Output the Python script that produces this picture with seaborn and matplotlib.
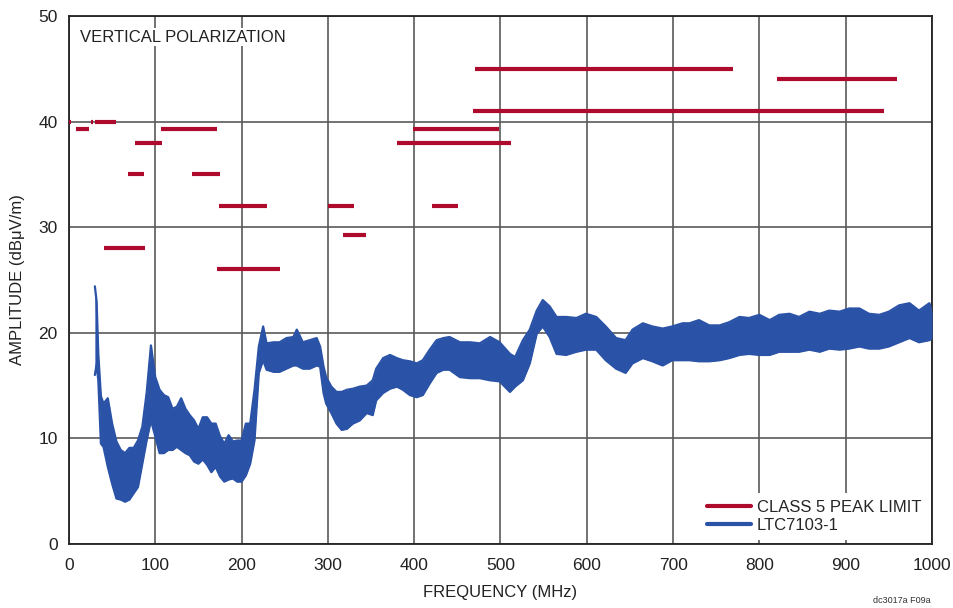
import numpy as np
import matplotlib
matplotlib.use("Agg")
import matplotlib.pyplot as plt
from matplotlib.lines import Line2D
import seaborn as sns

sns.set_style("white")
plt.rcParams["font.family"] = ["Liberation Sans", "DejaVu Sans"]

# CLASS 5 peak limit: start / stop (MHz) and level (dBuV/m)
limit_start = [0.15, 5.9, 26, 30, 8.5, 76, 107, 68, 142, 174, 300, 318, 41, 171, 399, 380, 421, 470, 468, 820]
limit_stop = [2.0, 6.2, 28, 54, 23.5, 108, 171, 87, 175, 230, 330, 344, 88, 245, 498, 512, 451, 770, 944, 960]
limit_level = [40, 40, 40, 40, 39.3, 38, 39.3, 35, 35, 32, 32, 29.3, 28, 26, 39.3, 38, 32, 45, 41, 44]

freq = [30, 32, 34, 37, 40, 45, 50, 55, 60, 65,
        70, 75, 80, 85, 90, 95, 100, 105, 110, 115,
        120, 125, 130, 135, 140, 145, 150, 155, 160, 165,
        170, 175, 180, 185, 190, 195, 200, 205, 210, 215,
        220, 225, 229, 237, 244, 252, 260, 264, 271, 279,
        287, 291, 295, 298, 304, 310, 316, 322, 329, 337,
        345, 352, 356, 364, 372, 380, 387, 395, 403, 410,
        418, 426, 434, 441, 453, 465, 476, 488, 499, 511,
        517, 526, 534, 542, 549, 557, 565, 576, 588, 599,
        611, 622, 634, 645, 653, 665, 676, 688, 699, 711,
        719, 730, 742, 754, 765, 777, 788, 800, 812, 823,
        835, 846, 858, 870, 881, 893, 904, 916, 927, 939,
        950, 962, 974, 985, 997, 1000]
amp_hi = [24.4, 23.0, 18.0, 14.0, 13.3, 13.8, 11.4, 9.7, 8.9, 8.6,
          9.1, 9.1, 9.8, 11.1, 14.3, 18.8, 15.8, 14.6, 14.1, 13.9,
          12.8, 13.0, 13.8, 12.8, 12.2, 11.7, 10.9, 12.0, 12.0, 11.4,
          11.4, 10.2, 9.5, 10.3, 9.7, 9.8, 9.8, 11.4, 11.4, 14.6,
          18.7, 20.6, 19.0, 19.1, 19.1, 19.5, 19.6, 20.3, 19.1, 19.3,
          19.5, 18.7, 16.8, 15.8, 14.9, 14.4, 14.4, 14.6, 14.7, 14.9,
          15.0, 15.5, 16.6, 17.6, 17.9, 17.6, 17.4, 17.3, 17.1, 17.4,
          18.4, 19.3, 19.5, 19.6, 19.1, 19.1, 19.0, 19.6, 19.1, 18.0,
          17.7, 19.3, 20.3, 22.1, 23.1, 22.5, 21.5, 21.5, 21.4, 21.8,
          21.5, 20.6, 19.5, 19.3, 20.3, 20.9, 20.6, 20.4, 20.6, 20.9,
          20.9, 21.2, 20.7, 20.7, 21.0, 21.5, 21.4, 21.7, 21.2, 21.7,
          21.8, 21.5, 22.0, 21.8, 22.1, 22.0, 22.3, 22.3, 21.8, 21.7,
          22.0, 22.6, 22.8, 22.1, 22.8, 22.0]
amp_lo = [16.0, 17.0, 15.5, 9.5, 9.2, 7.3, 5.7, 4.3, 4.2, 4.0,
          4.2, 4.8, 5.4, 7.6, 9.8, 11.7, 10.2, 8.6, 8.6, 8.9,
          8.9, 9.2, 8.9, 8.6, 8.4, 7.8, 7.6, 8.0, 7.5, 6.8,
          7.3, 6.4, 5.9, 6.1, 6.2, 5.9, 5.9, 6.5, 7.6, 9.8,
          16.2, 17.4, 16.5, 16.3, 16.3, 16.6, 16.9, 16.9, 16.6, 16.6,
          16.9, 16.8, 14.3, 13.3, 12.4, 11.4, 10.8, 10.9, 11.4, 11.7,
          12.4, 12.2, 13.6, 14.3, 14.7, 14.9, 14.6, 14.1, 13.9, 14.1,
          15.2, 16.2, 16.5, 16.5, 15.8, 15.7, 15.7, 15.5, 15.4, 14.4,
          14.9, 15.5, 17.1, 19.9, 20.6, 19.6, 18.0, 17.9, 18.2, 18.4,
          18.4, 17.4, 16.6, 16.2, 17.1, 17.6, 17.3, 16.9, 17.4, 17.4,
          17.4, 17.3, 17.3, 17.4, 17.6, 17.9, 18.0, 17.9, 17.9, 18.2,
          18.2, 18.2, 18.4, 18.2, 18.5, 18.4, 18.5, 18.7, 18.5, 18.5,
          18.7, 19.1, 19.5, 19.1, 19.3, 19.5]

x_ticks = [0, 100, 200, 300, 400, 500, 600, 700, 800, 900, 1000]
y_ticks = [0, 10, 20, 30, 40, 50]

RED = "#ad0a2e"
BLUE = "#2a52a6"
GRID = "#5a5a5a"
FS = 12

fig = plt.figure(figsize=(9.54, 6.08), dpi=100)
ax = fig.add_axes([0.0723, 0.1053, 0.9046, 0.8684])

# Messkurve als Band (untere/obere Kante)
ax.fill_between(freq, amp_lo, amp_hi, color=BLUE, linewidth=0, zorder=3)
sns.lineplot(x=freq, y=amp_hi, ax=ax, color=BLUE, linewidth=1.6, sort=False, estimator=None, zorder=3)
sns.lineplot(x=freq, y=amp_lo, ax=ax, color=BLUE, linewidth=1.6, sort=False, estimator=None, zorder=3)

# Grenzwerte
ax.hlines(limit_level, limit_start, limit_stop, colors=RED, linewidth=3.0, zorder=4)

ax.set_xlim(0, 1000)
ax.set_ylim(0, 50)
ax.set_xticks(x_ticks)
ax.set_yticks(y_ticks)
ax.grid(True, color=GRID, linewidth=1.2, zorder=1)
ax.set_axisbelow(True)
for s in ax.spines.values():
    s.set_color("#222222")
    s.set_linewidth(1.3)
ax.tick_params(length=0, labelsize=FS + 0.5, colors="#222222")
ax.tick_params(axis="x", pad=10)
ax.tick_params(axis="y", pad=8)

ax.set_xlabel("FREQUENCY (MHz)", fontsize=FS, color="#222222", labelpad=9)
ax.set_ylabel("AMPLITUDE (dBμV/m)", fontsize=FS, color="#222222", labelpad=10)

ax.text(0.013, 0.96, "VERTICAL POLARIZATION", transform=ax.transAxes,
        fontsize=FS, va="center", ha="left", color="#222222",
        bbox=dict(facecolor="white", edgecolor="none", pad=1), zorder=5)

handles = [Line2D([], [], color=RED, linewidth=3.0),
           Line2D([], [], color=BLUE, linewidth=3.0)]
leg = ax.legend(handles, ["CLASS 5 PEAK LIMIT", "LTC7103-1"], loc="lower right",
                fontsize=FS, frameon=True, fancybox=False, framealpha=1,
                handlelength=2.6, handletextpad=0.35, labelspacing=0.2,
                borderaxespad=0.25, borderpad=0.4)
leg.get_frame().set_edgecolor("none")
leg.get_frame().set_facecolor("white")
leg.set_zorder(6)

fig.text(0.915, 0.012, "dc3017a F09a", fontsize=6.5, ha="left", va="center", color="#333333")

fig.savefig("out.png", dpi=100)
plt.close(fig)
